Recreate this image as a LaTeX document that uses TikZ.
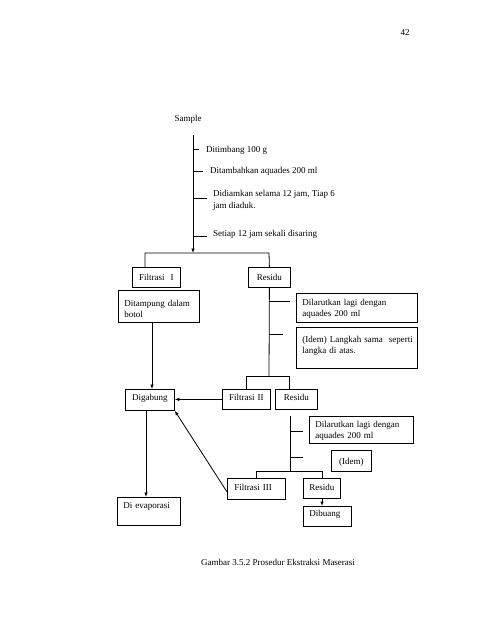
\documentclass[tikz,border=0pt]{standalone}
\usepackage{fontspec}
\setmainfont{Liberation Serif}
\usetikzlibrary{arrows.meta}
\begin{document}
\begin{tikzpicture}[x=1pt,y=-1pt,
  every node/.style={font=\fontsize{9}{11.5}\selectfont},
  ln/.style={line width=0.8pt},
  arr/.style={ln,-{Latex[length=4.5pt,width=3.5pt]}},
  bx/.style={draw,ln,anchor=north west,inner xsep=6pt,inner ysep=0pt},
  lbl/.style={inner sep=0pt,align=left}]
\useasboundingbox (0,0) rectangle (495,640);
\fill[white] (0,0) rectangle (495,640);

% page number and caption
\node[inner sep=0pt] (pg) at (405,33) {42};
\node[inner sep=0pt] (cap) at (278,562) {Gambar 3.5.2 Prosedur Ekstraksi Maserasi};

% first stage
\node[inner sep=0pt] (sample) at (188,119) {Sample};
\coordinate (s0) at (193,135);
\coordinate (j0) at (193,253);
\draw[arr] (s0) -- (j0);
\coordinate (t1) at (193,149);
\coordinate (t2) at (193,171);
\coordinate (t3) at (193,198);
\coordinate (t4) at (193,236);
\draw[ln] (t1) -- ++(6,0);
\draw[ln] (t2) -- ++(10,0);
\draw[ln] (t3) -- ++(14,0);
\draw[ln] (t4) -- ++(14,0);
\node[lbl,anchor=base west] (l1) at (206,152) {Ditimbang 100 g};
\node[lbl,anchor=base west] (l2) at (210,173.5) {Ditambahkan aquades 200 ml};
\node[lbl,anchor=north west] (l3) at (213,190.5) {Didiamkan selama 12 jam, Tiap 6\\jam diaduk.};
\node[lbl,anchor=base west] (l4) at (213,236) {Setiap 12 jam sekali disaring};

% boxes
\node[bx,text width=36pt,align=center,text height=13pt,text depth=7pt] (F1) at (132,267) {Filtrasi\ \ I};
\node[bx,text width=30pt,align=center,text height=13pt,text depth=7pt] (R1) at (248,267) {Residu};
\node[bx,text width=69pt,align=left,text height=16pt,text depth=16pt] (Dt) at (118,290) {Ditampung dalam\\botol};
\node[bx,text width=109pt,align=left,text height=12pt,text depth=17pt] (Dl1) at (296,293) {Dilarutkan lagi dengan\\aquades 200 ml};
\node[bx,text width=109pt,align=left,text height=15pt,text depth=26pt] (Id1) at (296,327) {\mbox{(Idem) Langkah sama\ \ seperti}\\langka di atas.};
\node[bx,text width=37pt,align=center,text height=11pt,text depth=10pt] (Dg) at (125,389) {Digabung};
\node[bx,text width=36pt,align=center,text height=11pt,text depth=9pt] (F2) at (222,389) {Filtrasi II};
\node[bx,text width=30pt,align=center,text height=11pt,text depth=9pt] (R2) at (275,389) {Residu};
\node[bx,text width=92pt,align=left,text height=11pt,text depth=16pt] (Dl2) at (309,416) {Dilarutkan lagi dengan\\aquades 200 ml};
\node[bx,text width=28pt,align=center,text height=14pt,text depth=7pt] (Id2) at (331,450) {(Idem)};
\node[bx,text width=44pt,align=left,text height=12pt,text depth=9pt,inner xsep=7pt] (F3) at (227,478) {Filtrasi III};
\node[bx,text width=25pt,align=left,text height=12pt,text depth=8pt] (R3) at (303,478) {Residu};
\node[bx,text width=36pt,align=left,text height=10pt,text depth=10pt] (Db) at (303,506) {Dibuang};
\node[bx,text width=51pt,align=left,text height=11pt,text depth=17pt] (Ev) at (117,497) {Di evaporasi};

% split after first stage
\coordinate (j0l) at (145,253);
\coordinate (j0r) at (269,253);
\draw[ln] (j0l |- F1.north) -- (j0l) -- (j0r) -- (R1.north);

% Ditampung -> Digabung
\coordinate (xa) at (152,0);
\draw[arr] (Dt.south -| xa) -- (Dg.north -| xa);

% Residu 1 spine
\coordinate (j1) at (269,376);
\draw[ln] (R1.south) -- (j1);
\coordinate (u1) at (269,301);
\coordinate (u2) at (269,334);
\draw[ln] (u1) -- ++(21,0);
\draw[ln] (u2) -- ++(14,0);
\coordinate (j1r) at (289,376);
\draw[ln] (F2.north) -- (F2.north |- j1) -- (j1r) -- (j1r |- R2.north);

% Filtrasi II -> Digabung
\draw[arr] (F2.west) -- (F2.west -| Dg.east);

% Residu 2 spine
\coordinate (s2) at (290,416);
\coordinate (j2) at (290,471);
\draw[ln] (s2) -- (j2);
\coordinate (v1) at (290,431);
\coordinate (v2) at (290,457);
\draw[ln] (v1) -- ++(13,0);
\draw[ln] (v2) -- ++(13,0);
\coordinate (j2r) at (322,471);
\draw[ln] (F3.north) -- (F3.north |- j2) -- (j2r) -- (j2r |- R3.north);

% Residu 3 -> Dibuang
\coordinate (xb) at (322,0);
\draw[arr] (R3.south -| xb) -- (Db.north -| xb);

% Filtrasi III -> Digabung
\draw[arr] ([yshift=-3pt]F3.west) -- (Dg.south east);

% Digabung -> Di evaporasi
\coordinate (xc) at (146,0);
\draw[arr] (Dg.south -| xc) -- (Ev.north -| xc);
\end{tikzpicture}
\end{document}
